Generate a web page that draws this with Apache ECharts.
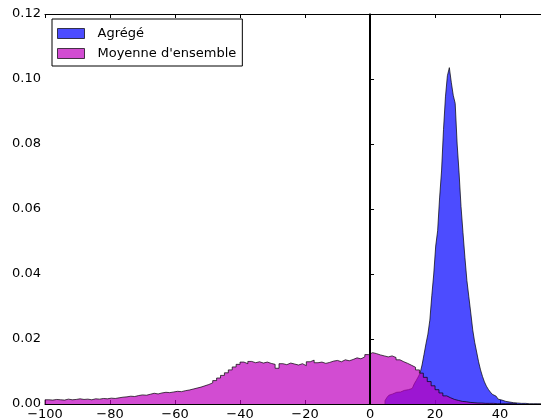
<!DOCTYPE html>
<html>
<head>
<meta charset="utf-8">
<script src="https://cdn.jsdelivr.net/npm/echarts@6/dist/echarts.min.js"></script>
<style>
  html, body { margin: 0; padding: 0; background: #fff; }
  #chart { width: 541px; height: 420px; }
</style>
</head>
<body>
<div id="chart"></div>
<script>
// Histogramme "Moyenne d'ensemble" : bacs de 1.2 a partir de -100
var ensStart = -100;
var ensWidth = 1.2;
var ensValues = [
  0.0013, 0.0012, 0.0014, 0.0013, 0.0012, 0.0015, 0.0013, 0.0014, 0.0016, 0.0014,
  0.0015, 0.0013, 0.0016, 0.0015, 0.0017, 0.0016, 0.0018, 0.0017, 0.0019, 0.0021,
  0.0022, 0.0024, 0.0023, 0.0026, 0.0028, 0.0027, 0.0030, 0.0033, 0.0031, 0.0034,
  0.0036, 0.0035, 0.0037, 0.0039, 0.0038, 0.0041, 0.0043, 0.0046, 0.0049, 0.0052,
  0.0056, 0.0060, 0.0065, 0.0072, 0.0080, 0.0088, 0.0096, 0.0105, 0.0114, 0.0122,
  0.0129, 0.0124, 0.0131, 0.0127, 0.0130, 0.0126, 0.0129, 0.0125, 0.0122, 0.0110,
  0.0124, 0.0121, 0.0126, 0.0123, 0.0120, 0.0124, 0.0118, 0.0130, 0.0135, 0.0127,
  0.0129, 0.0125, 0.0128, 0.0132, 0.0134, 0.0130, 0.0136, 0.0133, 0.0137, 0.0142,
  0.0139, 0.0145, 0.0152, 0.0158, 0.0155, 0.0151, 0.0148, 0.0145, 0.0148, 0.0143,
  0.0136, 0.0130, 0.0125, 0.0119, 0.0113, 0.0105, 0.0095, 0.0082, 0.0069, 0.0056,
  0.0044, 0.0034, 0.0025, 0.0019, 0.0014, 0.0011, 0.0008, 0.0007, 0.0005, 0.0004,
  0.0003, 0.0003, 0.0002, 0.0002, 0.0002, 0.0001, 0.0001, 0.0001, 0.0001, 0.0001, 0.0001
];

// Histogramme "Agrégé" : bacs de 0.6 a partir de 4.6
var aggStart = 4.6;
var aggWidth = 0.6;
var aggValues = [
  0.0010, 0.0020, 0.0027, 0.0031, 0.0034, 0.0036, 0.0038, 0.0037, 0.0040, 0.0042,
  0.0041, 0.0044, 0.0045, 0.0048, 0.0053, 0.0062, 0.0072, 0.0083, 0.0095, 0.0120,
  0.0152, 0.0185, 0.0215, 0.0258, 0.0333, 0.0400, 0.0486, 0.0533, 0.0634, 0.0717,
  0.0844, 0.0945, 0.1010, 0.1035, 0.0990, 0.0950, 0.0925, 0.0800, 0.0711, 0.0607,
  0.0527, 0.0450, 0.0380, 0.0330, 0.0280, 0.0228, 0.0190, 0.0160, 0.0130, 0.0105,
  0.0085, 0.0068, 0.0055, 0.0045, 0.0037, 0.0030, 0.0024, 0.0019, 0.0015, 0.0012,
  0.0010, 0.0008, 0.0007, 0.0006, 0.0005, 0.0004, 0.0004, 0.0003, 0.0003, 0.0002,
  0.0002, 0.0002, 0.0001, 0.0001, 0.0001, 0.0001, 0.0001, 0.0001, 0.0001, 0.0001
];

var seriesNames = ['Agrégé', "Moyenne d'ensemble"];
var xTicks = [-100, 52.6, 20];   // min, max, pas
var yTicks = [0, 0.12, 0.02];

var blueFill = 'rgba(0,0,255,0.7)';
var magFill = 'rgba(191,0,191,0.7)';
var edge = 'rgba(0,0,0,0.7)';
var font = 'DejaVu Sans';

// contour en escalier d'un histogramme (bord gauche de chaque bac)
function stepData(start, width, values) {
  var pts = [[start, 0]];
  for (var i = 0; i < values.length; i++) {
    pts.push([start + i * width, values[i]]);
  }
  var end = start + values.length * width;
  pts.push([end, values[values.length - 1]]);
  pts.push([end, 0]);
  return pts;
}

function minusSign(v) {
  return String(v).replace('-', '\u2212');
}

var myChart = echarts.init(document.getElementById('chart'));
var option = {
  animation: false,
  backgroundColor: '#fff',
  textStyle: { fontFamily: font },
  grid: { left: 45, right: 0, top: 14, bottom: 16, containLabel: false, outerBoundsMode: 'none' },
  legend: {
    orient: 'vertical',
    left: 52,
    top: 19,
    padding: [8, 6, 6, 5],
    itemWidth: 27,
    itemHeight: 10,
    itemGap: 7,
    icon: 'rect',
    backgroundColor: '#fff',
    borderColor: '#000',
    borderWidth: 1,
    textStyle: { color: '#000', fontSize: 13, fontFamily: font, padding: [0, 0, 0, 8] },
    data: [
      { name: seriesNames[0], itemStyle: { color: blueFill, borderColor: edge, borderWidth: 1 } },
      { name: seriesNames[1], itemStyle: { color: magFill, borderColor: edge, borderWidth: 1 } }
    ]
  },
  xAxis: [
    {
      type: 'value',
      min: xTicks[0],
      max: xTicks[1],
      interval: xTicks[2],
      position: 'bottom',
      splitLine: { show: false },
      axisLine: { lineStyle: { color: '#000', width: 1 } },
      axisTick: { inside: true, length: 4, lineStyle: { color: '#000' } },
      axisLabel: { color: '#000', fontSize: 13, fontFamily: font, margin: 4, showMaxLabel: false, formatter: minusSign }
    },
    {
      type: 'value',
      min: xTicks[0],
      max: xTicks[1],
      interval: xTicks[2],
      position: 'top',
      splitLine: { show: false },
      axisLine: { lineStyle: { color: '#000', width: 1 } },
      axisTick: { inside: true, length: 4, lineStyle: { color: '#000' } },
      axisLabel: { show: false }
    }
  ],
  yAxis: {
    type: 'value',
    min: yTicks[0],
    max: yTicks[1],
    interval: yTicks[2],
    splitLine: { show: false },
    axisLine: { show: true, lineStyle: { color: '#7a7a7a', width: 2 } },
    axisTick: { show: true, inside: true, length: 4, lineStyle: { color: '#000' } },
    axisLabel: {
      color: '#000', fontSize: 13, fontFamily: font, margin: 4,
      formatter: function (v) { return v.toFixed(2); }
    }
  },
  series: [
    {
      name: seriesNames[0],
      type: 'line',
      step: 'end',
      symbol: 'none',
      color: blueFill,
      lineStyle: { color: edge, width: 1 },
      areaStyle: { color: blueFill, opacity: 1 },
      data: stepData(aggStart, aggWidth, aggValues),
      z: 2
    },
    {
      name: seriesNames[1],
      type: 'line',
      step: 'end',
      symbol: 'none',
      color: magFill,
      lineStyle: { color: edge, width: 1 },
      areaStyle: { color: magFill, opacity: 1 },
      data: stepData(ensStart, ensWidth, ensValues),
      z: 3,
      markLine: {
        silent: true,
        symbol: ['none', 'none'],
        label: { show: false },
        lineStyle: { color: '#000', width: 2, type: 'solid' },
        data: [{ xAxis: 0 }]
      }
    }
  ]
};
myChart.setOption(option);
</script>
</body>
</html>
